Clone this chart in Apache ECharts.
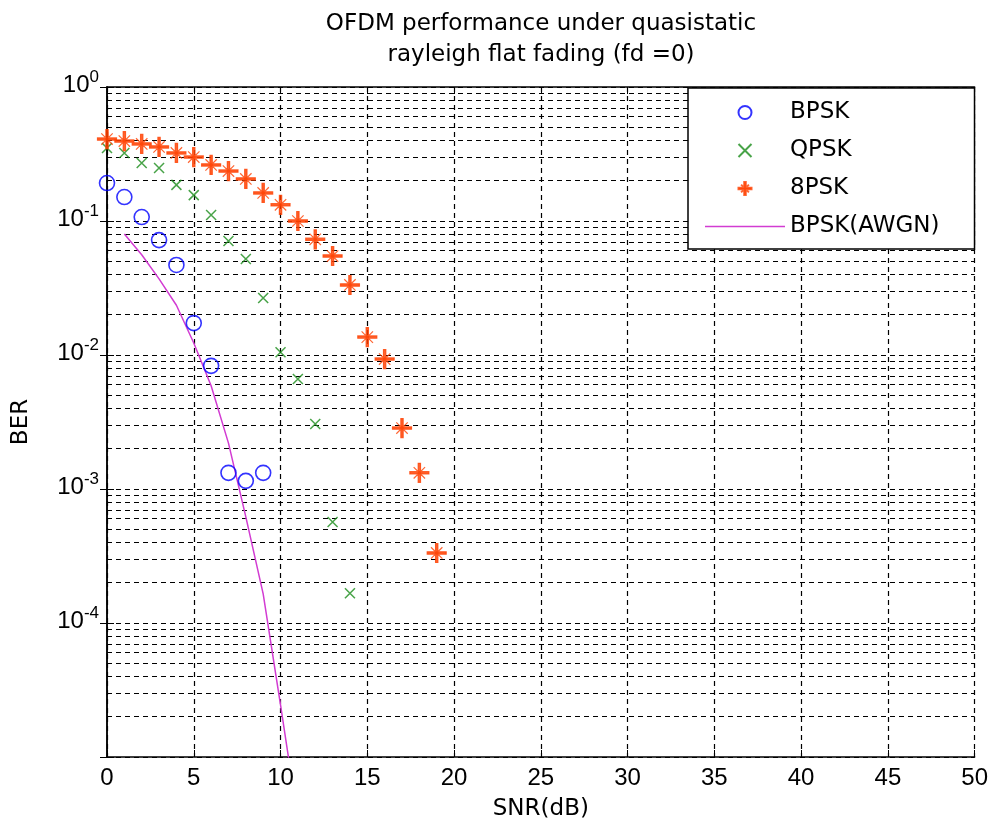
<!DOCTYPE html>
<html>
<head>
<meta charset="utf-8">
<script src="https://cdn.jsdelivr.net/npm/echarts@6/dist/echarts.min.js"></script>
<style>
  html, body { margin: 0; padding: 0; background: #fff; }
  #chart { width: 991px; height: 828px; }
</style>
</head>
<body>
<div id="chart"></div>
<script>
var snrBpsk = [0, 1, 2, 3, 4, 5, 6, 7, 8, 9];
var berBpsk = [0.192, 0.151, 0.107, 0.072, 0.047, 0.0173, 0.0083, 0.00132, 0.00115, 0.00132];

var snrQpsk = [0, 1, 2, 3, 4, 5, 6, 7, 8, 9, 10, 11, 12, 13, 14];
var berQpsk = [0.351, 0.322, 0.271, 0.249, 0.186, 0.156, 0.111, 0.071, 0.052, 0.0266, 0.0105, 0.00662, 0.00306, 0.000567, 0.000167];

var snr8psk = [0, 1, 2, 3, 4, 5, 6, 7, 8, 9, 10, 11, 12, 13, 14, 15, 16, 17, 18, 19];
var ber8psk = [0.409, 0.395, 0.376, 0.357, 0.322, 0.300, 0.262, 0.236, 0.206, 0.162, 0.132, 0.100, 0.073, 0.0548, 0.0333, 0.0136, 0.00933, 0.00285, 0.00132, 0.000333];

var snrAwgn = [1, 2, 3, 4, 5, 6, 7, 8, 9, 10, 10.6];
var berAwgn = [0.080, 0.056, 0.037, 0.0235, 0.0123, 0.0059, 0.0022, 0.00062, 0.000165, 0.0000245, 0.0000075];

var seriesNames = ['BPSK', 'QPSK', '8PSK', 'BPSK(AWGN)'];
var xTicks = [0, 50, 5];          // min, max, step
var decades = [-5, -4, -3, -2, -1];
var minorMult = [2, 3, 4, 5, 6, 7, 8, 9];

var crossPath = 'path://M0,0L10,10M10,0L0,10';
var starPath = 'path://M0,8.8L20,8.8L20,11.2L0,11.2ZM8.8,0L11.2,0L11.2,20L8.8,20ZM4,4L16,16M16,4L4,16';
var dashIcon = 'path://M0,0L80,0L80,1.5L0,1.5Z';

function pairs(xs, ys) {
    var out = [];
    for (var i = 0; i < xs.length; i++) out.push([xs[i], ys[i]]);
    return out;
}

// minor log grid lines 2..9 x 10^k
var minorLines = [];
decades.forEach(function (d) {
    minorMult.forEach(function (m) {
        minorLines.push({ yAxis: m * Math.pow(10, d) });
    });
});

var txtFont = 'DejaVu Sans';
var numFont = 'Liberation Sans';
var dash = { color: '#000', width: 1.2, type: [5, 4] };

var myChart = echarts.init(document.getElementById('chart'), null, { renderer: 'canvas' });

var option = {
    animation: false,
    backgroundColor: '#fff',
    title: {
        text: 'OFDM performance under quasistatic\nrayleigh flat fading (fd =0)',
        left: 541,
        top: 9,
        textAlign: 'center',
        padding: 0,
        textStyle: {
            fontFamily: txtFont,
            fontSize: 23,
            fontWeight: 'normal',
            color: '#000',
            lineHeight: 31
        }
    },
    legend: {
        orient: 'vertical',
        left: 688,
        top: 88,
        padding: [13, 35, 11, 17],
        itemWidth: 80,
        itemHeight: 13,
        itemGap: 15,
        backgroundColor: '#fff',
        borderColor: '#000',
        borderWidth: 1.5,
        textStyle: { fontFamily: txtFont, fontSize: 23, color: '#000' },
        data: [
            { name: seriesNames[0], icon: 'circle' },
            { name: seriesNames[1], icon: crossPath },
            { name: seriesNames[2], icon: starPath },
            { name: seriesNames[3], icon: dashIcon }
        ]
    },
    grid: { left: 107, right: 14, top: 87, bottom: 71 },
    xAxis: [{
        type: 'value',
        min: xTicks[0],
        max: xTicks[1],
        interval: xTicks[2],
        name: 'SNR(dB)',
        nameLocation: 'middle',
        nameGap: 41,
        nameTextStyle: { fontFamily: txtFont, fontSize: 23, color: '#000' },
        axisLine: { lineStyle: { color: '#000', width: 1.5 } },
        axisTick: { inside: true, length: 7, lineStyle: { color: '#000' } },
        axisLabel: { fontFamily: numFont, fontSize: 24, color: '#000', margin: 9 },
        splitLine: { show: true, lineStyle: dash }
    }, {
        type: 'value',
        position: 'top',
        min: xTicks[0],
        max: xTicks[1],
        interval: xTicks[2],
        axisLine: { show: true, lineStyle: { color: '#000', width: 1.5 } },
        axisTick: { inside: true, length: 7, lineStyle: { color: '#000' } },
        axisLabel: { show: false },
        splitLine: { show: false }
    }],
    yAxis: [{
        type: 'log',
        logBase: 10,
        min: 1e-5,
        max: 1,
        name: 'BER',
        nameLocation: 'middle',
        nameGap: 74,
        nameTextStyle: { fontFamily: txtFont, fontSize: 23, color: '#000' },
        axisLine: { show: true, lineStyle: { color: '#000', width: 1.5 } },
        axisTick: { show: true, inside: true, length: 7, lineStyle: { color: '#000' } },
        splitLine: { show: true, lineStyle: dash },
        axisLabel: {
            margin: 8,
            formatter: function (v) {
                var e = Math.round(Math.log10(v));
                if (e === -5) return '';
                return '{b|10}{s|' + e + '}';
            },
            rich: {
                b: { fontFamily: numFont, fontSize: 24, color: '#000', padding: [0, 0, 8, 0], verticalAlign: 'bottom' },
                s: { fontFamily: numFont, fontSize: 17, color: '#000', padding: [0, 0, 20, 0], verticalAlign: 'top' }
            }
        }
    }, {
        type: 'log',
        logBase: 10,
        min: 1e-5,
        max: 1,
        position: 'right',
        axisLine: { show: true, lineStyle: { color: '#000', width: 1.5 } },
        axisTick: { show: true, inside: true, length: 7, lineStyle: { color: '#000' } },
        axisLabel: { show: false },
        splitLine: { show: false }
    }],
    series: [{
        name: seriesNames[0],
        type: 'scatter',
        symbol: 'circle',
        symbolSize: 15,
        z: 3,
        itemStyle: { color: 'rgba(255,255,255,0)', borderColor: '#0000ff', borderWidth: 1.6 },
        data: pairs(snrBpsk, berBpsk)
    }, {
        name: seriesNames[1],
        type: 'scatter',
        symbol: crossPath,
        symbolSize: 10,
        z: 3,
        itemStyle: { color: 'rgba(255,255,255,0)', borderColor: '#1a8c1a', borderWidth: 1.5 },
        data: pairs(snrQpsk, berQpsk)
    }, {
        name: seriesNames[2],
        type: 'scatter',
        symbol: starPath,
        symbolSize: 19,
        z: 3,
        itemStyle: { color: '#ff4000', borderColor: '#ff4000', borderWidth: 1.2 },
        data: pairs(snr8psk, ber8psk)
    }, {
        name: seriesNames[3],
        type: 'line',
        symbol: 'none',
        z: 3,
        lineStyle: { color: '#d23cd2', width: 1.5 },
        itemStyle: { color: '#d23cd2' },
        data: pairs(snrAwgn, berAwgn),
        markLine: {
            silent: true,
            precision: 12,
            symbol: ['none', 'none'],
            z: 1,
            label: { show: false },
            lineStyle: dash,
            data: minorLines
        }
    }]
};

if (option && typeof option === 'object') {
    myChart.setOption(option);
}

window.addEventListener('resize', myChart.resize);
</script>
</body>
</html>
